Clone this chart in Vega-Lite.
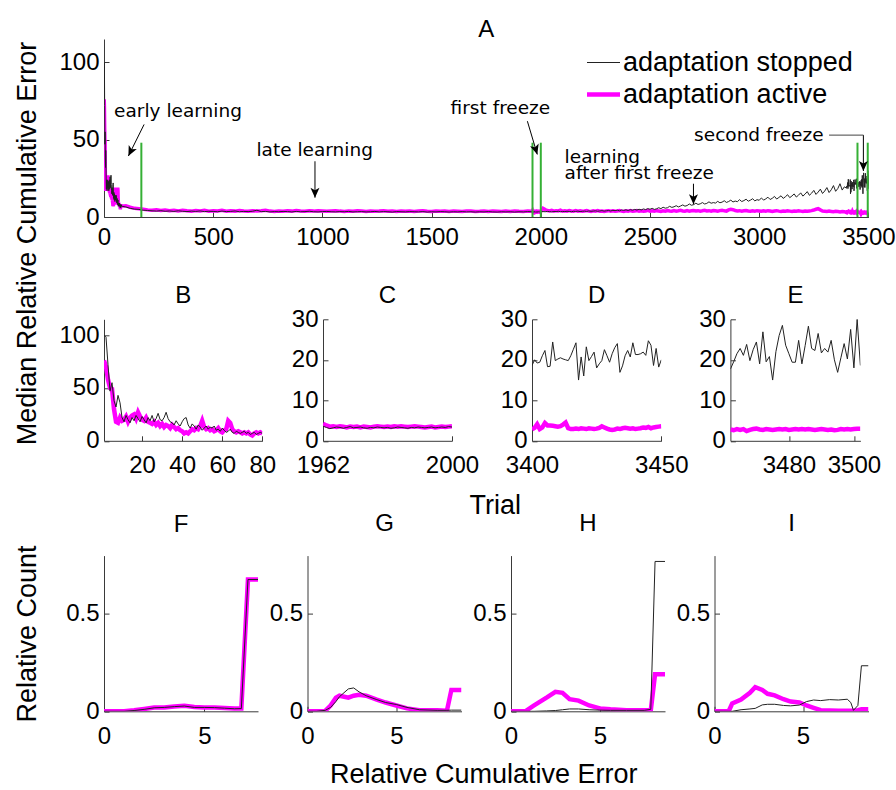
{
"$schema":"https://vega.github.io/schema/vega-lite/v6.json",
"background":"white",
"padding":{"left":13,"top":18,"right":5,"bottom":5},
"bounds":"flush",
"spacing":102.3,
"resolve":{"scale":{"color":"independent"},"legend":{"color":"independent"}},
"datasets":{
"trials":[
{"trial":1,"stopped":100,"active":76},{"trial":2,"stopped":98,"active":70},{"trial":3,"stopped":72,"active":58},{"trial":4,"stopped":47,"active":50},{"trial":5,"stopped":55,"active":49},{"trial":6,"stopped":38,"active":30},{"trial":7,"stopped":32,"active":18},{"trial":8,"stopped":43,"active":17},{"trial":9,"stopped":36,"active":22},{"trial":10,"stopped":22,"active":19},
{"trial":11,"stopped":18,"active":20},{"trial":12,"stopped":24,"active":23},{"trial":13,"stopped":20,"active":18},{"trial":14,"stopped":17,"active":22},{"trial":15,"stopped":22,"active":24},{"trial":16,"stopped":19,"active":25},{"trial":17,"stopped":24,"active":21},{"trial":18,"stopped":21,"active":27},{"trial":19,"stopped":18,"active":23},{"trial":20,"stopped":23,"active":20},
{"trial":21,"stopped":20,"active":19},{"trial":22,"stopped":17,"active":22},{"trial":23,"stopped":22,"active":18},{"trial":24,"stopped":19,"active":17},{"trial":25,"stopped":24,"active":16},{"trial":26,"stopped":18,"active":18},{"trial":27,"stopped":21,"active":15},{"trial":28,"stopped":26,"active":17},{"trial":29,"stopped":20,"active":14},{"trial":30,"stopped":19,"active":16},
{"trial":31,"stopped":22,"active":13},{"trial":32,"stopped":27,"active":15},{"trial":33,"stopped":21,"active":14},{"trial":34,"stopped":18,"active":12},{"trial":35,"stopped":17,"active":15},{"trial":36,"stopped":15,"active":13},{"trial":37,"stopped":19,"active":11},{"trial":38,"stopped":16,"active":12},{"trial":39,"stopped":14,"active":10},{"trial":40,"stopped":18,"active":9},
{"trial":41,"stopped":21,"active":7},{"trial":42,"stopped":22,"active":8},{"trial":43,"stopped":15,"active":7},{"trial":44,"stopped":12,"active":9},{"trial":45,"stopped":16,"active":11},{"trial":46,"stopped":14,"active":10},{"trial":47,"stopped":11,"active":12},{"trial":48,"stopped":15,"active":11},{"trial":49,"stopped":13,"active":14},{"trial":50,"stopped":10,"active":19},
{"trial":51,"stopped":12,"active":13},{"trial":52,"stopped":14,"active":11},{"trial":53,"stopped":11,"active":12},{"trial":54,"stopped":13,"active":10},{"trial":55,"stopped":12,"active":11},{"trial":56,"stopped":14,"active":9},{"trial":57,"stopped":10,"active":10},{"trial":58,"stopped":11,"active":12},{"trial":59,"stopped":9,"active":9},{"trial":60,"stopped":12,"active":8},
{"trial":61,"stopped":10,"active":10},{"trial":62,"stopped":8,"active":11},{"trial":63,"stopped":9,"active":19},{"trial":64,"stopped":11,"active":17},{"trial":65,"stopped":8,"active":11},{"trial":66,"stopped":7,"active":9},{"trial":67,"stopped":9,"active":8},{"trial":68,"stopped":8,"active":9},{"trial":69,"stopped":7,"active":8},{"trial":70,"stopped":8,"active":7},
{"trial":71,"stopped":9,"active":8},{"trial":72,"stopped":7,"active":7},{"trial":73,"stopped":8,"active":8},{"trial":74,"stopped":6,"active":6},{"trial":75,"stopped":7,"active":5},{"trial":76,"stopped":8,"active":7},{"trial":77,"stopped":6,"active":8},{"trial":78,"stopped":7,"active":7},{"trial":79,"stopped":8,"active":8},{"trial":80,"stopped":7,"active":7},
{"trial":100,"stopped":6.5,"active":7.2},{"trial":120,"stopped":5.6,"active":6.3},{"trial":140,"stopped":5.1,"active":5.6},{"trial":160,"stopped":4.9,"active":5.3},{"trial":180,"stopped":4.4,"active":5.0},{"trial":200,"stopped":4.2,"active":4.6},{"trial":220,"stopped":4.0,"active":4.4},{"trial":240,"stopped":3.8,"active":4.7},{"trial":260,"stopped":4.1,"active":4.2},{"trial":280,"stopped":3.7,"active":4.5},
{"trial":300,"stopped":3.9,"active":4.1},{"trial":320,"stopped":3.6,"active":4.4},{"trial":340,"stopped":4.0,"active":3.9},{"trial":360,"stopped":3.7,"active":4.3},{"trial":380,"stopped":3.5,"active":4.0},{"trial":400,"stopped":3.8,"active":3.8},{"trial":420,"stopped":3.6,"active":4.2},{"trial":440,"stopped":3.9,"active":3.9},{"trial":460,"stopped":3.5,"active":4.3},{"trial":480,"stopped":3.7,"active":3.8},
{"trial":500,"stopped":3.6,"active":4.1},{"trial":520,"stopped":3.4,"active":3.9},{"trial":540,"stopped":3.8,"active":4.4},{"trial":560,"stopped":3.5,"active":3.7},{"trial":580,"stopped":3.6,"active":4.0},{"trial":600,"stopped":3.9,"active":3.8},{"trial":620,"stopped":3.4,"active":4.2},{"trial":640,"stopped":3.6,"active":3.9},{"trial":660,"stopped":3.5,"active":3.7},{"trial":680,"stopped":3.7,"active":4.1},
{"trial":700,"stopped":4.4,"active":3.8},{"trial":720,"stopped":3.5,"active":4.0},{"trial":740,"stopped":3.6,"active":4.3},{"trial":760,"stopped":3.3,"active":3.8},{"trial":780,"stopped":3.5,"active":3.6},{"trial":800,"stopped":3.4,"active":3.9},{"trial":820,"stopped":3.6,"active":3.7},{"trial":840,"stopped":3.5,"active":4.0},{"trial":860,"stopped":3.3,"active":3.8},{"trial":880,"stopped":3.6,"active":4.2},
{"trial":900,"stopped":3.4,"active":3.9},{"trial":920,"stopped":3.5,"active":3.7},{"trial":940,"stopped":3.7,"active":4.0},{"trial":960,"stopped":3.4,"active":3.8},{"trial":980,"stopped":3.3,"active":4.1},{"trial":1000,"stopped":3.5,"active":3.9},{"trial":1020,"stopped":3.6,"active":3.7},{"trial":1040,"stopped":3.4,"active":3.9},{"trial":1060,"stopped":3.3,"active":4.1},{"trial":1080,"stopped":3.5,"active":3.8},
{"trial":1100,"stopped":3.4,"active":3.6},{"trial":1120,"stopped":3.6,"active":3.9},{"trial":1140,"stopped":3.3,"active":3.7},{"trial":1160,"stopped":3.4,"active":4.0},{"trial":1180,"stopped":3.5,"active":3.8},{"trial":1200,"stopped":3.3,"active":3.6},{"trial":1220,"stopped":3.4,"active":3.9},{"trial":1240,"stopped":3.6,"active":3.7},{"trial":1260,"stopped":3.3,"active":3.8},{"trial":1280,"stopped":3.5,"active":4.0},
{"trial":1300,"stopped":3.4,"active":3.7},{"trial":1320,"stopped":3.2,"active":3.9},{"trial":1340,"stopped":3.5,"active":3.6},{"trial":1360,"stopped":3.4,"active":3.8},{"trial":1380,"stopped":3.3,"active":3.7},{"trial":1400,"stopped":3.5,"active":3.9},{"trial":1420,"stopped":3.4,"active":3.6},{"trial":1440,"stopped":3.3,"active":3.8},{"trial":1460,"stopped":3.5,"active":4.0},{"trial":1480,"stopped":3.2,"active":3.7},
{"trial":1500,"stopped":3.4,"active":3.6},{"trial":1520,"stopped":3.3,"active":3.8},{"trial":1540,"stopped":3.5,"active":3.7},{"trial":1560,"stopped":3.4,"active":3.9},{"trial":1580,"stopped":3.2,"active":3.6},{"trial":1600,"stopped":3.4,"active":3.8},{"trial":1620,"stopped":3.3,"active":3.7},{"trial":1640,"stopped":3.5,"active":3.5},{"trial":1660,"stopped":3.3,"active":3.8},{"trial":1680,"stopped":3.4,"active":3.9},
{"trial":1700,"stopped":3.2,"active":3.6},{"trial":1720,"stopped":3.4,"active":3.7},{"trial":1740,"stopped":3.3,"active":3.9},{"trial":1760,"stopped":3.5,"active":3.6},{"trial":1780,"stopped":3.3,"active":3.8},{"trial":1800,"stopped":3.2,"active":3.7},{"trial":1820,"stopped":3.4,"active":3.5},{"trial":1840,"stopped":3.3,"active":3.8},{"trial":1860,"stopped":3.4,"active":3.6},{"trial":1880,"stopped":3.2,"active":3.9},
{"trial":1900,"stopped":3.4,"active":3.7},{"trial":1920,"stopped":3.3,"active":3.6},{"trial":1940,"stopped":3.5,"active":3.8},{"trial":1960,"stopped":3.4,"active":3.7},
{"trial":1962,"stopped":3.6,"active":4.2},{"trial":1963,"stopped":3.3,"active":3.8},{"trial":1964,"stopped":3.0,"active":3.5},{"trial":1965,"stopped":3.2,"active":3.6},{"trial":1966,"stopped":3.4,"active":3.4},{"trial":1967,"stopped":3.3,"active":3.6},{"trial":1968,"stopped":3.1,"active":3.5},{"trial":1969,"stopped":3.3,"active":3.3},{"trial":1970,"stopped":3.5,"active":3.5},{"trial":1971,"stopped":3.2,"active":3.4},
{"trial":1972,"stopped":3.3,"active":3.5},{"trial":1973,"stopped":3.4,"active":3.3},{"trial":1974,"stopped":3.2,"active":3.5},{"trial":1975,"stopped":3.1,"active":3.4},{"trial":1976,"stopped":3.3,"active":3.3},{"trial":1977,"stopped":3.2,"active":3.5},{"trial":1978,"stopped":3.4,"active":3.6},{"trial":1979,"stopped":3.3,"active":3.5},{"trial":1980,"stopped":3.2,"active":3.4},{"trial":1981,"stopped":3.3,"active":3.5},
{"trial":1982,"stopped":3.1,"active":3.4},{"trial":1983,"stopped":3.2,"active":3.6},{"trial":1984,"stopped":3.4,"active":3.5},{"trial":1985,"stopped":3.3,"active":3.6},{"trial":1986,"stopped":3.2,"active":3.5},{"trial":1987,"stopped":3.1,"active":3.4},{"trial":1988,"stopped":3.3,"active":3.5},{"trial":1989,"stopped":3.2,"active":3.6},{"trial":1990,"stopped":3.4,"active":3.5},{"trial":1991,"stopped":3.3,"active":3.4},
{"trial":1992,"stopped":3.2,"active":3.3},{"trial":1993,"stopped":3.3,"active":3.4},{"trial":1994,"stopped":3.4,"active":3.5},{"trial":1995,"stopped":3.2,"active":3.3},{"trial":1996,"stopped":3.3,"active":3.4},{"trial":1997,"stopped":3.4,"active":3.5},{"trial":1998,"stopped":3.3,"active":3.4},{"trial":1999,"stopped":3.5,"active":3.5},{"trial":2000,"stopped":3.4,"active":3.6},
{"trial":2010,"stopped":3.5,"active":5.6},{"trial":2020,"stopped":3.4,"active":4.8},{"trial":2030,"stopped":3.6,"active":4.2},{"trial":2040,"stopped":3.5,"active":3.9},{"trial":2050,"stopped":3.3,"active":4.3},{"trial":2060,"stopped":3.6,"active":3.8},{"trial":2070,"stopped":3.5,"active":4.1},{"trial":2080,"stopped":3.7,"active":3.9},{"trial":2090,"stopped":3.4,"active":4.4},{"trial":2100,"stopped":3.6,"active":3.7},
{"trial":2110,"stopped":3.5,"active":4.0},{"trial":2120,"stopped":3.7,"active":3.8},{"trial":2130,"stopped":3.6,"active":4.2},{"trial":2140,"stopped":3.4,"active":3.9},{"trial":2150,"stopped":3.7,"active":3.7},{"trial":2160,"stopped":3.6,"active":4.1},{"trial":2170,"stopped":3.8,"active":3.8},{"trial":2180,"stopped":3.5,"active":4.0},{"trial":2190,"stopped":3.7,"active":3.7},{"trial":2200,"stopped":3.8,"active":3.9},
{"trial":2210,"stopped":3.6,"active":4.2},{"trial":2220,"stopped":3.9,"active":3.8},{"trial":2230,"stopped":3.7,"active":3.6},{"trial":2240,"stopped":3.8,"active":4.0},{"trial":2250,"stopped":4.0,"active":3.8},{"trial":2260,"stopped":3.7,"active":4.1},{"trial":2270,"stopped":3.9,"active":3.7},{"trial":2280,"stopped":4.1,"active":3.9},{"trial":2290,"stopped":3.8,"active":3.6},{"trial":2300,"stopped":4.0,"active":3.9},
{"trial":2310,"stopped":4.2,"active":4.1},{"trial":2320,"stopped":3.9,"active":3.8},{"trial":2330,"stopped":4.3,"active":4.0},{"trial":2340,"stopped":4.1,"active":3.7},{"trial":2350,"stopped":4.4,"active":3.9},{"trial":2360,"stopped":4.0,"active":4.2},{"trial":2370,"stopped":4.5,"active":3.8},{"trial":2380,"stopped":4.3,"active":3.6},{"trial":2390,"stopped":4.6,"active":4.0},{"trial":2400,"stopped":4.2,"active":3.8},
{"trial":2410,"stopped":4.7,"active":4.1},{"trial":2420,"stopped":4.4,"active":3.7},{"trial":2430,"stopped":4.9,"active":3.9},{"trial":2440,"stopped":4.5,"active":4.2},{"trial":2450,"stopped":5.0,"active":3.8},{"trial":2460,"stopped":4.6,"active":4.0},{"trial":2470,"stopped":5.2,"active":3.7},{"trial":2480,"stopped":4.8,"active":3.9},{"trial":2490,"stopped":5.4,"active":4.3},{"trial":2500,"stopped":5.0,"active":3.8},
{"trial":2510,"stopped":5.6,"active":4.0},{"trial":2520,"stopped":4.9,"active":3.7},{"trial":2530,"stopped":5.3,"active":4.1},{"trial":2540,"stopped":6.0,"active":3.9},{"trial":2550,"stopped":5.4,"active":3.6},{"trial":2560,"stopped":6.3,"active":4.0},{"trial":2570,"stopped":5.7,"active":3.8},{"trial":2580,"stopped":6.0,"active":4.2},{"trial":2590,"stopped":6.9,"active":3.9},{"trial":2600,"stopped":6.2,"active":3.7},
{"trial":2610,"stopped":6.6,"active":4.1},{"trial":2620,"stopped":7.3,"active":3.8},{"trial":2630,"stopped":6.5,"active":4.0},{"trial":2640,"stopped":7.1,"active":4.3},{"trial":2650,"stopped":7.8,"active":3.9},{"trial":2660,"stopped":7.0,"active":3.7},{"trial":2670,"stopped":7.4,"active":4.1},{"trial":2680,"stopped":8.4,"active":3.8},{"trial":2690,"stopped":7.6,"active":4.0},{"trial":2700,"stopped":8.0,"active":4.2},
{"trial":2710,"stopped":8.9,"active":3.9},{"trial":2720,"stopped":8.1,"active":4.1},{"trial":2730,"stopped":8.5,"active":3.8},{"trial":2740,"stopped":9.3,"active":4.0},{"trial":2750,"stopped":8.4,"active":4.3},{"trial":2760,"stopped":8.8,"active":3.9},{"trial":2770,"stopped":9.8,"active":4.1},{"trial":2780,"stopped":8.9,"active":3.8},{"trial":2790,"stopped":9.3,"active":4.2},{"trial":2800,"stopped":9.0,"active":4.0},
{"trial":2810,"stopped":10.1,"active":3.8},{"trial":2820,"stopped":9.2,"active":4.1},{"trial":2830,"stopped":9.6,"active":4.4},{"trial":2840,"stopped":10.5,"active":4.0},{"trial":2850,"stopped":9.4,"active":3.8},{"trial":2860,"stopped":10.0,"active":4.6},{"trial":2870,"stopped":10.9,"active":5.0},{"trial":2880,"stopped":9.7,"active":4.7},{"trial":2890,"stopped":10.3,"active":4.2},{"trial":2900,"stopped":9.9,"active":3.9},
{"trial":2910,"stopped":11.2,"active":4.1},{"trial":2920,"stopped":10.0,"active":3.8},{"trial":2930,"stopped":10.6,"active":4.0},{"trial":2940,"stopped":11.5,"active":4.2},{"trial":2950,"stopped":10.2,"active":3.9},{"trial":2960,"stopped":10.9,"active":3.7},{"trial":2970,"stopped":11.8,"active":4.0},{"trial":2980,"stopped":10.4,"active":3.8},{"trial":2990,"stopped":11.2,"active":4.1},{"trial":3000,"stopped":10.8,"active":3.9},
{"trial":3010,"stopped":12.3,"active":3.7},{"trial":3020,"stopped":10.9,"active":4.0},{"trial":3030,"stopped":11.7,"active":3.8},{"trial":3040,"stopped":12.8,"active":4.1},{"trial":3050,"stopped":11.3,"active":3.9},{"trial":3060,"stopped":12.1,"active":3.6},{"trial":3070,"stopped":13.3,"active":3.9},{"trial":3080,"stopped":11.6,"active":4.1},{"trial":3090,"stopped":12.6,"active":3.8},{"trial":3100,"stopped":13.7,"active":3.6},
{"trial":3110,"stopped":12.0,"active":3.9},{"trial":3120,"stopped":13.1,"active":3.7},{"trial":3130,"stopped":14.4,"active":4.0},{"trial":3140,"stopped":12.5,"active":3.8},{"trial":3150,"stopped":13.6,"active":3.6},{"trial":3160,"stopped":14.9,"active":3.9},{"trial":3170,"stopped":12.9,"active":3.7},{"trial":3180,"stopped":14.1,"active":4.0},{"trial":3190,"stopped":15.6,"active":3.8},{"trial":3200,"stopped":13.5,"active":3.6},
{"trial":3210,"stopped":14.8,"active":3.9},{"trial":3220,"stopped":16.4,"active":3.7},{"trial":3230,"stopped":14.0,"active":3.9},{"trial":3240,"stopped":15.4,"active":4.1},{"trial":3250,"stopped":17.2,"active":4.5},{"trial":3260,"stopped":14.6,"active":5.0},{"trial":3270,"stopped":16.1,"active":5.4},{"trial":3280,"stopped":18.0,"active":4.6},{"trial":3290,"stopped":15.2,"active":3.9},{"trial":3300,"stopped":16.8,"active":3.7},
{"trial":3310,"stopped":19.0,"active":3.5},{"trial":3320,"stopped":15.8,"active":3.8},{"trial":3330,"stopped":17.6,"active":3.6},{"trial":3340,"stopped":20.3,"active":3.4},{"trial":3350,"stopped":16.6,"active":3.7},{"trial":3360,"stopped":18.4,"active":3.5},{"trial":3370,"stopped":21.5,"active":3.3},{"trial":3380,"stopped":17.4,"active":3.6},{"trial":3390,"stopped":19.5,"active":3.4},
{"trial":3400,"stopped":18.6,"active":2.8},{"trial":3401,"stopped":20.0,"active":3.2},{"trial":3402,"stopped":19.2,"active":4.1},{"trial":3403,"stopped":19.4,"active":2.9},{"trial":3404,"stopped":21.0,"active":3.3},{"trial":3405,"stopped":22.3,"active":4.4},{"trial":3406,"stopped":18.3,"active":3.8},{"trial":3407,"stopped":18.4,"active":3.8},{"trial":3408,"stopped":24.4,"active":3.7},{"trial":3409,"stopped":19.8,"active":3.6},
{"trial":3410,"stopped":20.2,"active":3.5},{"trial":3411,"stopped":20.5,"active":3.6},{"trial":3412,"stopped":20.2,"active":4.0},{"trial":3413,"stopped":20.0,"active":4.5},{"trial":3414,"stopped":19.8,"active":3.1},{"trial":3415,"stopped":21.0,"active":2.9},{"trial":3416,"stopped":22.6,"active":2.9},{"trial":3417,"stopped":24.2,"active":3.0},{"trial":3418,"stopped":15.0,"active":2.9},{"trial":3419,"stopped":20.7,"active":3.1},
{"trial":3420,"stopped":16.0,"active":3.0},{"trial":3421,"stopped":23.2,"active":2.9},{"trial":3422,"stopped":19.8,"active":3.1},{"trial":3423,"stopped":20.8,"active":3.0},{"trial":3424,"stopped":21.9,"active":2.9},{"trial":3425,"stopped":18.0,"active":3.0},{"trial":3426,"stopped":19.0,"active":3.2},{"trial":3427,"stopped":19.8,"active":3.6},{"trial":3428,"stopped":22.5,"active":3.3},{"trial":3429,"stopped":21.0,"active":3.0},
{"trial":3430,"stopped":19.4,"active":2.8},{"trial":3431,"stopped":21.5,"active":2.7},{"trial":3432,"stopped":23.0,"active":2.8},{"trial":3433,"stopped":24.0,"active":3.0},{"trial":3434,"stopped":16.9,"active":2.9},{"trial":3435,"stopped":18.5,"active":3.1},{"trial":3436,"stopped":21.0,"active":3.2},{"trial":3437,"stopped":22.3,"active":3.1},{"trial":3438,"stopped":20.7,"active":3.0},{"trial":3439,"stopped":24.2,"active":3.1},
{"trial":3440,"stopped":21.3,"active":2.9},{"trial":3441,"stopped":21.3,"active":3.0},{"trial":3442,"stopped":21.5,"active":3.1},{"trial":3443,"stopped":21.9,"active":3.3},{"trial":3444,"stopped":21.1,"active":3.2},{"trial":3445,"stopped":24.7,"active":3.4},{"trial":3446,"stopped":23.6,"active":3.1},{"trial":3447,"stopped":18.6,"active":3.3},{"trial":3448,"stopped":22.8,"active":3.4},{"trial":3449,"stopped":18.2,"active":3.5},
{"trial":3450,"stopped":20.0,"active":3.6},{"trial":3453,"stopped":22.5,"active":3.1},{"trial":3456,"stopped":19.5,"active":3.0},{"trial":3459,"stopped":23.0,"active":2.9},
{"trial":3462,"stopped":17.7,"active":2.8},{"trial":3463,"stopped":19.5,"active":2.6},{"trial":3464,"stopped":21.5,"active":2.9},{"trial":3465,"stopped":22.8,"active":2.7},{"trial":3466,"stopped":21.1,"active":2.9},{"trial":3467,"stopped":23.8,"active":2.4},{"trial":3468,"stopped":19.8,"active":2.7},{"trial":3469,"stopped":22.5,"active":2.9},{"trial":3470,"stopped":24.4,"active":3.0},{"trial":3471,"stopped":19.0,"active":2.8},
{"trial":3472,"stopped":26.9,"active":2.7},{"trial":3473,"stopped":19.5,"active":2.9},{"trial":3474,"stopped":20.8,"active":2.8},{"trial":3475,"stopped":15.0,"active":2.7},{"trial":3476,"stopped":22.0,"active":2.8},{"trial":3477,"stopped":26.0,"active":2.9},{"trial":3478,"stopped":28.5,"active":2.8},{"trial":3479,"stopped":23.6,"active":2.9},{"trial":3480,"stopped":21.5,"active":2.7},{"trial":3481,"stopped":19.4,"active":2.8},
{"trial":3482,"stopped":19.4,"active":2.9},{"trial":3483,"stopped":24.8,"active":2.8},{"trial":3484,"stopped":19.0,"active":2.9},{"trial":3485,"stopped":23.5,"active":2.8},{"trial":3486,"stopped":28.3,"active":2.9},{"trial":3487,"stopped":22.8,"active":2.8},{"trial":3488,"stopped":22.3,"active":2.7},{"trial":3489,"stopped":26.5,"active":2.8},{"trial":3490,"stopped":21.7,"active":2.9},{"trial":3491,"stopped":22.8,"active":2.8},
{"trial":3492,"stopped":21.9,"active":2.7},{"trial":3493,"stopped":24.8,"active":2.8},{"trial":3494,"stopped":20.0,"active":2.6},{"trial":3495,"stopped":16.9,"active":2.7},{"trial":3496,"stopped":20.5,"active":2.9},{"trial":3497,"stopped":24.0,"active":2.8},{"trial":3498,"stopped":20.2,"active":2.9},{"trial":3499,"stopped":27.5,"active":2.8},{"trial":3500,"stopped":18.0,"active":2.9},{"trial":3501,"stopped":30.0,"active":3.0},
{"trial":3502,"stopped":18.6,"active":3.0}
],
"hist":[
{"panel":"F","err":0,"stopped":0,"active":0},{"panel":"F","err":0.5,"stopped":0,"active":0},{"panel":"F","err":1,"stopped":0,"active":0},{"panel":"F","err":1.5,"stopped":0.004,"active":0.005},{"panel":"F","err":2,"stopped":0.01,"active":0.012},{"panel":"F","err":2.5,"stopped":0.018,"active":0.02},{"panel":"F","err":3,"stopped":0.02,"active":0.02},{"panel":"F","err":3.5,"stopped":0.024,"active":0.025},{"panel":"F","err":4,"stopped":0.027,"active":0.028},{"panel":"F","err":4.5,"stopped":0.02,"active":0.022},{"panel":"F","err":5,"stopped":0.02,"active":0.02},{"panel":"F","err":5.5,"stopped":0.019,"active":0.02},{"panel":"F","err":6,"stopped":0.016,"active":0.017},{"panel":"F","err":6.5,"stopped":0.013,"active":0.014},{"panel":"F","err":6.84,"stopped":0.014,"active":0.014},{"panel":"F","err":7.17,"stopped":0.677,"active":0.677},{"panel":"F","err":7.67,"stopped":0.677,"active":0.677},
{"panel":"G","err":0,"stopped":0,"active":0},{"panel":"G","err":0.5,"stopped":0,"active":0},{"panel":"G","err":1,"stopped":0.005,"active":0.002},{"panel":"G","err":1.3,"stopped":0.02,"active":0.03},{"panel":"G","err":1.6,"stopped":0.05,"active":0.07},{"panel":"G","err":1.8,"stopped":0.075,"active":0.08},{"panel":"G","err":2.3,"stopped":0.115,"active":0.07},{"panel":"G","err":2.6,"stopped":0.12,"active":0.08},{"panel":"G","err":2.9,"stopped":0.1,"active":0.085},{"panel":"G","err":3.3,"stopped":0.08,"active":0.08},{"panel":"G","err":3.9,"stopped":0.06,"active":0.06},{"panel":"G","err":4.4,"stopped":0.045,"active":0.045},{"panel":"G","err":5,"stopped":0.035,"active":0.03},{"panel":"G","err":5.6,"stopped":0.02,"active":0.015},{"panel":"G","err":6.3,"stopped":0.008,"active":0.005},{"panel":"G","err":7.3,"stopped":0.005,"active":0.005},{"panel":"G","err":7.85,"stopped":0.005,"active":0.003},{"panel":"G","err":8.1,"stopped":0.006,"active":0.11},{"panel":"G","err":8.67,"stopped":0.006,"active":0.11},
{"panel":"H","err":0,"stopped":0,"active":0},{"panel":"H","err":0.5,"stopped":0,"active":0},{"panel":"H","err":0.8,"stopped":0,"active":0},{"panel":"H","err":1.3,"stopped":0,"active":0.03},{"panel":"H","err":2,"stopped":0.002,"active":0.07},{"panel":"H","err":2.5,"stopped":0.004,"active":0.1},{"panel":"H","err":2.9,"stopped":0.008,"active":0.095},{"panel":"H","err":3.3,"stopped":0.012,"active":0.062},{"panel":"H","err":3.8,"stopped":0.012,"active":0.055},{"panel":"H","err":4.4,"stopped":0.008,"active":0.03},{"panel":"H","err":5,"stopped":0.006,"active":0.015},{"panel":"H","err":5.6,"stopped":0.005,"active":0.01},{"panel":"H","err":6.5,"stopped":0.005,"active":0.005},{"panel":"H","err":7.5,"stopped":0.005,"active":0.005},{"panel":"H","err":7.87,"stopped":0.01,"active":0.005},{"panel":"H","err":8.11,"stopped":0.77,"active":0.19},{"panel":"H","err":8.67,"stopped":0.77,"active":0.19},
{"panel":"I","err":0,"stopped":0,"active":0},{"panel":"I","err":0.5,"stopped":0,"active":0},{"panel":"I","err":0.8,"stopped":0,"active":0},{"panel":"I","err":1,"stopped":0,"active":0.04},{"panel":"I","err":1.5,"stopped":0.008,"active":0.06},{"panel":"I","err":2,"stopped":0.012,"active":0.095},{"panel":"I","err":2.3,"stopped":0.015,"active":0.124},{"panel":"I","err":2.7,"stopped":0.033,"active":0.11},{"panel":"I","err":3,"stopped":0.036,"active":0.09},{"panel":"I","err":3.4,"stopped":0.036,"active":0.082},{"panel":"I","err":3.9,"stopped":0.03,"active":0.062},{"panel":"I","err":4.3,"stopped":0.028,"active":0.05},{"panel":"I","err":4.8,"stopped":0.032,"active":0.045},{"panel":"I","err":5.2,"stopped":0.05,"active":0.03},{"panel":"I","err":5.6,"stopped":0.058,"active":0.018},{"panel":"I","err":6,"stopped":0.055,"active":0.006},{"panel":"I","err":6.5,"stopped":0.06,"active":0.004},{"panel":"I","err":7,"stopped":0.058,"active":0.003},{"panel":"I","err":7.5,"stopped":0.062,"active":0.003},{"panel":"I","err":7.7,"stopped":0.045,"active":0.003},{"panel":"I","err":7.85,"stopped":0.005,"active":0.003},{"panel":"I","err":8.1,"stopped":0.03,"active":0.006},{"panel":"I","err":8.3,"stopped":0.234,"active":0.01},{"panel":"I","err":8.7,"stopped":0.234,"active":0.01}
]
},
"vconcat":[
{
"width":764.4,"height":178,
"title":{"text":"A","offset":-3},
"encoding":{
"x":{"field":"trial","type":"quantitative","scale":{"domain":[0,3500],"nice":false,"zero":false},"axis":{"values":[0,500,1000,1500,2000,2500,3000,3500],"format":"d","title":null,"labelPadding":13}},
"y":{"field":"value","type":"quantitative","scale":{"domain":[0,115],"nice":false},"axis":{"values":[0,50,100],"title":"Median Relative Cumulative Error","titleX":-68.4,"titleY":204,"titleBaseline":"alphabetic","titleAlign":"center"}}
},
"layer":[
{"data":{"name":"trials"},"transform":[{"fold":["active","stopped"],"as":["series","value"]},{"filter":"datum.series == 'active'"}],
"mark":{"type":"line","strokeWidth":3.5,"clip":true},
"encoding":{"color":{"field":"series","type":"nominal","scale":{"domain":["stopped","active"],"range":["#222222","#ff00ff"]},
"legend":{"title":null,"orient":"none","legendX":486,"legendY":10,"symbolType":"stroke","symbolSize":1089,"labelFontSize":27,"labelFont":"Liberation Sans","labelColor":"#000","labelLimit":500,"labelOffset":6,"rowPadding":4,"labelExpr":"'adaptation ' + datum.label","encode":{"symbols":{"update":{"strokeWidth":{"signal":"datum.value === 'active' ? 4.5 : 1"}}}}}}}},
{"data":{"name":"trials"},"transform":[{"fold":["active","stopped"],"as":["series","value"]},{"filter":"datum.series == 'stopped'"}],
"mark":{"type":"line","strokeWidth":1,"clip":true},
"encoding":{"color":{"field":"series","type":"nominal","scale":{"domain":["stopped","active"],"range":["#222222","#ff00ff"]}}}},
{"data":{"values":[{"trial":171,"value":0,"value2":48},{"trial":1962,"value":0,"value2":48},{"trial":2000,"value":0,"value2":48},{"trial":3450,"value":0,"value2":48},{"trial":3497,"value":0,"value2":48}]},
"mark":{"type":"rule","color":"#35b035","strokeWidth":2},
"encoding":{"y2":{"field":"value2"}}},
{"data":{"values":[{"trial":183.6,"value":59.8,"trial2":111.7,"value2":39.4},{"trial":966,"value":36,"trial2":966,"value2":12.5},{"trial":1938.6,"value":61.9,"trial2":1984,"value2":40.4},{"trial":2699,"value":21.5,"trial2":2699,"value2":8.2},{"trial":3477,"value":52.9,"trial2":3477,"value2":29.7}]},
"mark":{"type":"rule","color":"#000","strokeWidth":1},
"encoding":{"x2":{"field":"trial2"},"y2":{"field":"value2"}}},
{"data":{"values":[{"trial":3320,"value":52.9,"trial2":3477,"value2":52.9}]},
"mark":{"type":"rule","color":"#444","strokeWidth":1},
"encoding":{"x2":{"field":"trial2"},"y2":{"field":"value2"}}},
{"data":{"values":[{"trial":966,"value":12.5},{"trial":2699,"value":8.2},{"trial":3477,"value":29.7}]},
"mark":{"type":"point","shape":"M0,0L-0.45,-1L0,-0.75L0.45,-1Z","filled":true,"color":"#000","size":400,"opacity":1}},
{"data":{"values":[{"trial":111.7,"value":39.4}]},
"mark":{"type":"point","shape":"M0,0L-0.45,-1L0,-0.75L0.45,-1Z","filled":true,"color":"#000","size":400,"opacity":1,"angle":26}},
{"data":{"values":[{"trial":1984,"value":40.4}]},
"mark":{"type":"point","shape":"M0,0L-0.45,-1L0,-0.75L0.45,-1Z","filled":true,"color":"#000","size":400,"opacity":1,"angle":343}},
{"data":{"values":[{"trial":46.3,"value":64.5,"label":"early learning"},{"trial":698,"value":39.4,"label":"late learning"},{"trial":1587,"value":66.3,"label":"first freeze"},{"trial":2109,"value":35.0,"label":"learning\nafter first freeze"},{"trial":2702,"value":49,"label":"second freeze"}]},
"mark":{"type":"text","font":"DejaVu Sans","fontSize":18.5,"align":"left","baseline":"alphabetic","color":"#000","lineBreak":"\n","lineHeight":16.6},
"encoding":{"text":{"field":"label"}}}
]
},
{
"bounds":"flush","spacing":236.3,
"vconcat":[
{"bounds":"flush","spacing":60,
"hconcat":[
{"width":158.3,"height":121.5,"title":{"text":"B","offset":11.6},
"data":{"name":"trials"},
"transform":[{"filter":"datum.trial <= 80"},{"fold":["active","stopped"],"as":["series","value"]}],
"encoding":{
"x":{"field":"trial","type":"quantitative","scale":{"domain":[1,80],"nice":false,"zero":false},"axis":{"values":[20,40,60,80],"format":"d","title":null}},
"y":{"field":"value","type":"quantitative","scale":{"domain":[0,115],"nice":false},"axis":{"values":[0,50,100],"format":"d","title":null}}},
"layer":[
{"transform":[{"filter":"datum.series == 'active'"}],"mark":{"type":"line","color":"#ff00ff","strokeWidth":4.5,"clip":true}},
{"transform":[{"filter":"datum.series == 'stopped'"}],"mark":{"type":"line","color":"#222222","strokeWidth":1,"clip":true}}
]},
{"bounds":"flush","spacing":80,
"hconcat":[
{"width":129,"height":121.5,"title":{"text":"C","offset":-0.4},
"data":{"name":"trials"},
"transform":[{"filter":"datum.trial >= 1962 && datum.trial <= 2000"},{"fold":["active","stopped"],"as":["series","value"]}],
"encoding":{
"x":{"field":"trial","type":"quantitative","scale":{"domain":[1962,2000],"nice":false,"zero":false},"axis":{"values":[1962,2000],"format":"d","title":"Trial","titleX":171.7,"titleY":73,"titleBaseline":"alphabetic","titleAlign":"center"}},
"y":{"field":"value","type":"quantitative","scale":{"domain":[0,30],"nice":false},"axis":{"values":[0,10,20,30],"format":"d","title":null}}},
"layer":[
{"transform":[{"filter":"datum.series == 'active'"}],"mark":{"type":"line","color":"#ff00ff","strokeWidth":4.5,"clip":true}},
{"transform":[{"filter":"datum.series == 'stopped'"}],"mark":{"type":"line","color":"#222222","strokeWidth":1,"clip":true}}
]},
{"bounds":"flush","spacing":68.4,
"hconcat":[
{"width":129.3,"height":121.5,"title":{"text":"D","offset":-0.4},
"data":{"name":"trials"},
"transform":[{"filter":"datum.trial >= 3400 && datum.trial <= 3450"},{"fold":["active","stopped"],"as":["series","value"]}],
"encoding":{
"x":{"field":"trial","type":"quantitative","scale":{"domain":[3400,3450],"nice":false,"zero":false},"axis":{"values":[3400,3450],"format":"d","title":null}},
"y":{"field":"value","type":"quantitative","scale":{"domain":[0,30],"nice":false},"axis":{"values":[0,10,20,30],"format":"d","title":null}}},
"layer":[
{"transform":[{"filter":"datum.series == 'active'"}],"mark":{"type":"line","color":"#ff00ff","strokeWidth":4.5,"clip":true}},
{"transform":[{"filter":"datum.series == 'stopped'"}],"mark":{"type":"line","color":"#222222","strokeWidth":1,"clip":true}}
]},
{"width":130,"height":121.5,"title":{"text":"E","offset":-0.4},
"data":{"name":"trials"},
"transform":[{"filter":"datum.trial >= 3462"},{"fold":["active","stopped"],"as":["series","value"]}],
"encoding":{
"x":{"field":"trial","type":"quantitative","scale":{"domain":[3462,3502],"nice":false,"zero":false},"axis":{"values":[3480,3500],"format":"d","title":null}},
"y":{"field":"value","type":"quantitative","scale":{"domain":[0,30],"nice":false},"axis":{"values":[0,10,20,30],"format":"d","title":null}}},
"layer":[
{"transform":[{"filter":"datum.series == 'active'"}],"mark":{"type":"line","color":"#ff00ff","strokeWidth":4.5,"clip":true}},
{"transform":[{"filter":"datum.series == 'stopped'"}],"mark":{"type":"line","color":"#222222","strokeWidth":1,"clip":true}}
]}
]}
]}
]},
{"bounds":"flush","spacing":49.5,
"hconcat":[
{"width":154,"height":155.7,"title":{"text":"F","offset":8},
"data":{"name":"hist"},
"transform":[{"filter":"datum.panel == 'F'"},{"fold":["active","stopped"],"as":["series","count"]}],
"encoding":{
"x":{"field":"err","type":"quantitative","scale":{"domain":[0,7.67],"nice":false,"zero":false},"axis":{"values":[0,5],"format":"~g","title":null}},
"y":{"field":"count","type":"quantitative","scale":{"domain":[0,0.8],"nice":false},"axis":{"values":[0,0.5],"format":"~g","title":"Relative Count","titleX":-68.4,"titleBaseline":"alphabetic","titleAlign":"center"}}},
"layer":[
{"transform":[{"filter":"datum.series == 'active'"}],"mark":{"type":"line","color":"#ff00ff","strokeWidth":4.5,"clip":true}},
{"transform":[{"filter":"datum.series == 'stopped'"}],"mark":{"type":"line","color":"#222222","strokeWidth":1,"clip":true}}
]},
{"width":154,"height":155.7,"title":{"text":"G","offset":20},
"data":{"name":"hist"},
"transform":[{"filter":"datum.panel == 'G'"},{"fold":["active","stopped"],"as":["series","count"]}],
"encoding":{
"x":{"field":"err","type":"quantitative","scale":{"domain":[0,8.67],"nice":false,"zero":false},"axis":{"values":[0,5],"format":"~g","title":"Relative Cumulative Error","titleX":175.8,"titleY":71,"titleBaseline":"alphabetic","titleAlign":"center"}},
"y":{"field":"count","type":"quantitative","scale":{"domain":[0,0.8],"nice":false},"axis":{"values":[0,0.5],"format":"~g","title":null}}},
"layer":[
{"transform":[{"filter":"datum.series == 'active'"}],"mark":{"type":"line","color":"#ff00ff","strokeWidth":4.5,"clip":true}},
{"transform":[{"filter":"datum.series == 'stopped'"}],"mark":{"type":"line","color":"#222222","strokeWidth":1,"clip":true}}
]},
{"width":154,"height":155.7,"title":{"text":"H","offset":20},
"data":{"name":"hist"},
"transform":[{"filter":"datum.panel == 'H'"},{"fold":["active","stopped"],"as":["series","count"]}],
"encoding":{
"x":{"field":"err","type":"quantitative","scale":{"domain":[0,8.67],"nice":false,"zero":false},"axis":{"values":[0,5],"format":"~g","title":null}},
"y":{"field":"count","type":"quantitative","scale":{"domain":[0,0.8],"nice":false},"axis":{"values":[0,0.5],"format":"~g","title":null}}},
"layer":[
{"transform":[{"filter":"datum.series == 'active'"}],"mark":{"type":"line","color":"#ff00ff","strokeWidth":4.5,"clip":true}},
{"transform":[{"filter":"datum.series == 'stopped'"}],"mark":{"type":"line","color":"#222222","strokeWidth":1,"clip":true}}
]},
{"width":154,"height":155.7,"title":{"text":"I","offset":20},
"data":{"name":"hist"},
"transform":[{"filter":"datum.panel == 'I'"},{"fold":["active","stopped"],"as":["series","count"]}],
"encoding":{
"x":{"field":"err","type":"quantitative","scale":{"domain":[0,8.7],"nice":false,"zero":false},"axis":{"values":[0,5],"format":"~g","title":null}},
"y":{"field":"count","type":"quantitative","scale":{"domain":[0,0.8],"nice":false},"axis":{"values":[0,0.5],"format":"~g","title":null}}},
"layer":[
{"transform":[{"filter":"datum.series == 'active'"}],"mark":{"type":"line","color":"#ff00ff","strokeWidth":4.5,"clip":true}},
{"transform":[{"filter":"datum.series == 'stopped'"}],"mark":{"type":"line","color":"#222222","strokeWidth":1,"clip":true}}
]}
]}
]}
],
"config":{
"font":"Liberation Sans",
"view":{"stroke":null},
"axis":{"grid":false,"domainColor":"#3a3a3a","tickColor":"#3a3a3a","tickSize":-5,"domainWidth":1,"tickWidth":1,"labelFontSize":24,"labelFont":"Liberation Sans","labelColor":"#000","titleFontSize":27,"titleFont":"Liberation Sans","titleFontWeight":"normal","titleColor":"#000","labelFlush":false,"labelOverlap":false},
"axisX":{"labelPadding":18},
"axisY":{"labelPadding":10},
"title":{"fontSize":24,"font":"Liberation Sans","fontWeight":"normal","color":"#000","baseline":"alphabetic","anchor":"middle","frame":"group"}
}
}
